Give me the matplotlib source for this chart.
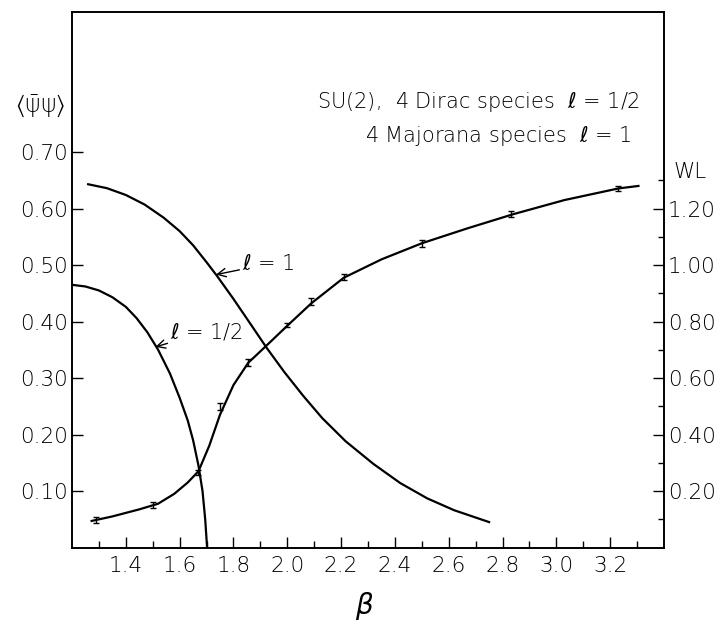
import matplotlib
matplotlib.use("Agg")
import matplotlib.pyplot as plt

# ---- data ----
beta_l1 = [1.26, 1.33, 1.40, 1.47, 1.54, 1.60, 1.65, 1.70, 1.74, 1.80, 1.86,
           1.924, 1.99, 2.06, 2.13, 2.217, 2.32, 2.42, 2.52, 2.62, 2.75]
pbp_l1 = [0.643, 0.636, 0.624, 0.607, 0.584, 0.560, 0.535, 0.505, 0.480, 0.440,
          0.398, 0.353, 0.310, 0.268, 0.229, 0.188, 0.148, 0.114, 0.087, 0.066, 0.045]

beta_l12 = [1.20, 1.25, 1.30, 1.35, 1.40, 1.44, 1.48, 1.52, 1.564, 1.60, 1.63,
            1.65, 1.67, 1.685, 1.695, 1.702]
pbp_l12 = [0.465, 0.462, 0.455, 0.443, 0.426, 0.406, 0.381, 0.350, 0.308, 0.265,
           0.225, 0.19, 0.145, 0.10, 0.05, 0.0]

beta_wl_pts = [1.29, 1.50, 1.67, 1.75, 1.855, 2.00, 2.09, 2.21, 2.50, 2.83, 3.23]
wl_pts = [0.097, 0.150, 0.265, 0.498, 0.654, 0.788, 0.870, 0.957, 1.077, 1.180, 1.271]
wl_err = [0.010, 0.010, 0.010, 0.012, 0.012, 0.008, 0.012, 0.010, 0.012, 0.010, 0.008]

beta_wl_curve = [1.273, 1.35, 1.45, 1.52, 1.58, 1.63, 1.67, 1.71, 1.75, 1.80, 1.855,
                 1.924, 2.00, 2.09, 2.21, 2.35, 2.50, 2.67, 2.84, 3.03, 3.23, 3.305]
wl_curve = [0.094, 0.110, 0.135, 0.155, 0.19, 0.23, 0.27, 0.36, 0.47, 0.575, 0.654,
            0.716, 0.785, 0.865, 0.955, 1.02, 1.077, 1.13, 1.18, 1.23, 1.271, 1.28]

x_major = [1.4, 1.6, 1.8, 2.0, 2.2, 2.4, 2.6, 2.8, 3.0, 3.2]
x_minor = [1.3, 1.5, 1.7, 1.9, 2.1, 2.3, 2.5, 2.7, 2.9, 3.1, 3.3]
left_ticks = [0.10, 0.20, 0.30, 0.40, 0.50, 0.60, 0.70]
right_major = [0.20, 0.40, 0.60, 0.80, 1.00, 1.20]
right_minor = [0.10, 0.30, 0.50, 0.70, 0.90, 1.10, 1.30]

plt.rcParams['font.family'] = ['DejaVu Sans', 'Noto Sans']
plt.rcParams['font.weight'] = 'light'
plt.rcParams['mathtext.fontset'] = 'dejavusans'
FS = 15.5

fig = plt.figure(figsize=(7.22, 6.26), dpi=100)
ax = fig.add_axes([72/722, 1-547.5/626, (664-72)/722, (547.5-12.5)/626])
ax2 = ax.twinx()

ax.set_xlim(1.2, 3.4)
ax.set_ylim(0, 0.947)
ax2.set_ylim(0, 1.894)

lw = 1.6
ax.plot(beta_l1, pbp_l1, color='black', lw=lw)
ax.plot(beta_l12, pbp_l12, color='black', lw=lw)
ax2.plot(beta_wl_curve, wl_curve, color='black', lw=lw)
ax2.errorbar(beta_wl_pts, wl_pts, yerr=wl_err, fmt='none', ecolor='black',
             elinewidth=1.0, capsize=2.5, capthick=1.0)

ax.set_xticks(x_major)
ax.set_xticklabels([f"{v:.1f}" for v in x_major])
ax.set_xticks(x_minor, minor=True)
ax.set_yticks(left_ticks)
ax.set_yticklabels([f"{v:.2f}" for v in left_ticks])
ax2.set_yticks(right_major)
ax2.set_yticklabels([f"{v:.2f}" for v in right_major])
ax2.set_yticks(right_minor, minor=True)

ax.tick_params(axis='x', which='major', direction='in', length=8, width=1,
               labelsize=FS, pad=6)
ax.tick_params(axis='x', which='minor', direction='in', length=5, width=1)
ax.tick_params(axis='y', which='major', direction='in', length=8, width=1,
               labelsize=FS, pad=3)
ax2.tick_params(axis='y', which='major', direction='in', length=8, width=1,
                labelsize=FS, pad=3)
ax2.tick_params(axis='y', which='minor', direction='in', length=4.5, width=1)
for a in (ax, ax2):
    for s in a.spines.values():
        s.set_linewidth(1.2)

# axis labels
fig.text(40/722, 1-106/626, r'$\langle\bar{\mathrm{\psi}}\mathrm{\psi}\rangle$',
         ha='center', va='center', fontsize=17)
fig.text(690/722, 1-172/626, 'WL', ha='center', va='center', fontsize=FS)
fig.text(364/722, 1-606/626, r'$\beta$', ha='center', va='center', fontsize=20)

# legend text
fig.text(640/722, 1-102/626, r'SU(2),  4 Dirac species  $\ell$ = 1/2', ha='right',
         va='center', fontsize=15)
fig.text(632/722, 1-136/626, r'4 Majorana species  $\ell$ = 1', ha='right',
         va='center', fontsize=15)

# annotations
ax.annotate(r'$\ell$ = 1', xy=(1.735, 0.483), xytext=(1.93, 0.502),
            fontsize=15, ha='center', va='center',
            arrowprops=dict(arrowstyle='->', lw=1.0, color='black',
                            shrinkA=20, shrinkB=0))
ax.annotate(r'$\ell$ = 1/2', xy=(1.51, 0.355), xytext=(1.70, 0.382),
            fontsize=15, ha='center', va='center',
            arrowprops=dict(arrowstyle='->', lw=1.0, color='black',
                            shrinkA=30, shrinkB=0))

fig.savefig('out.png', dpi=100)
